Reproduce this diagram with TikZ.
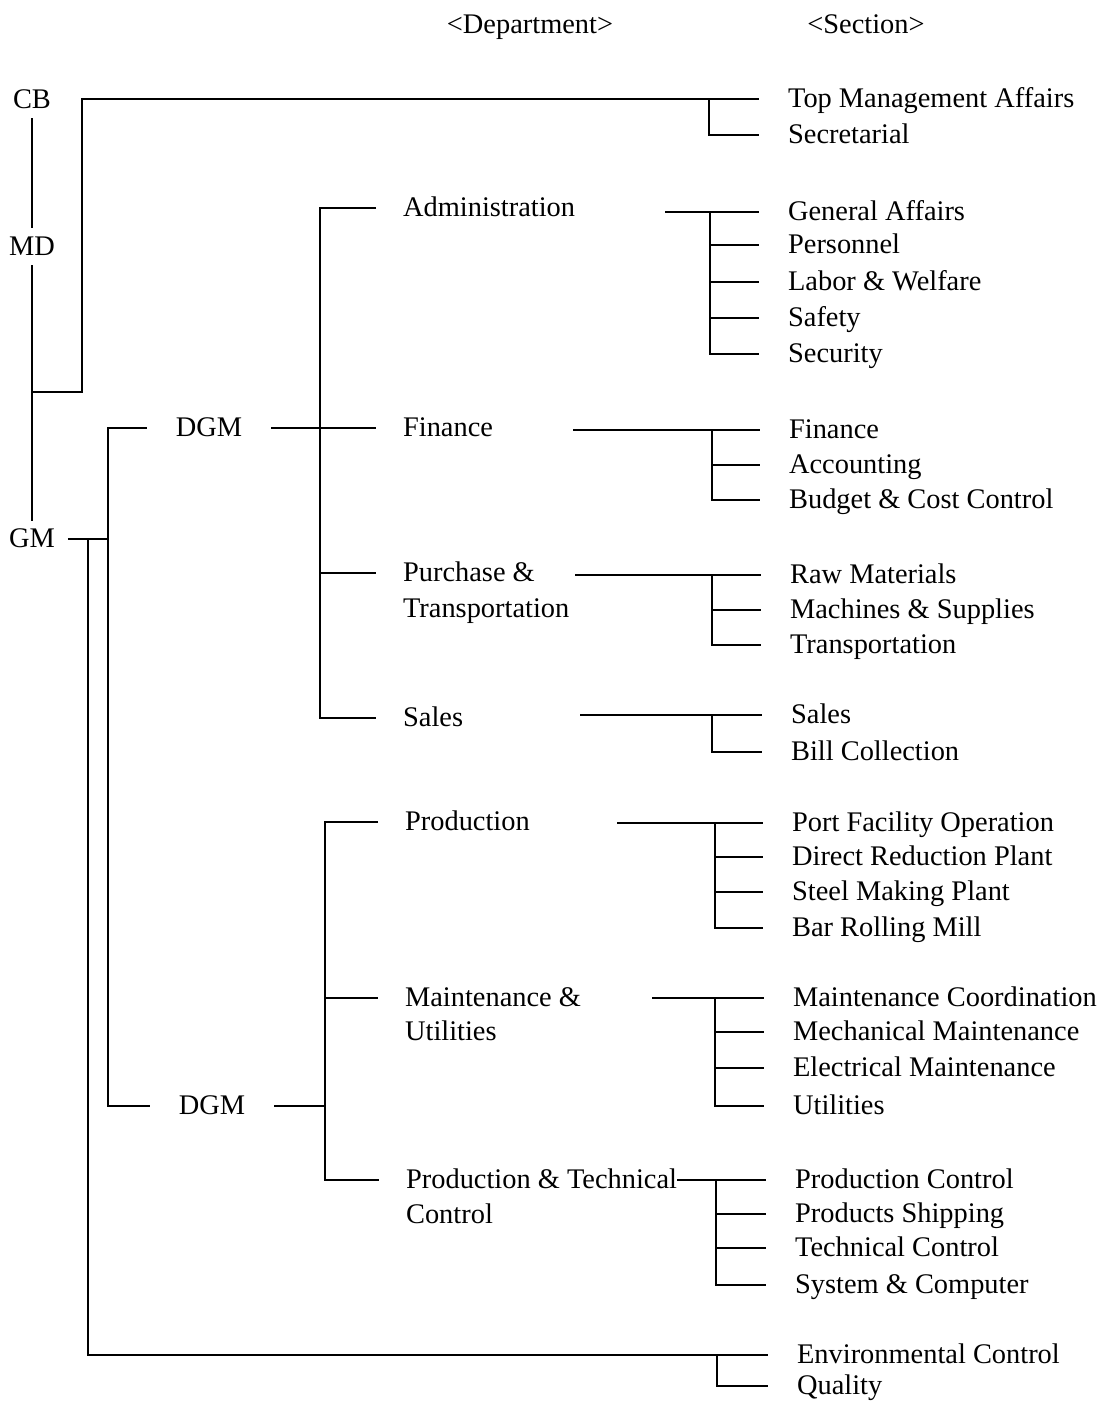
\documentclass[tikz,border=0pt]{standalone}
\usepackage{fontspec}
\setmainfont{Liberation Serif}
\begin{document}
\begin{tikzpicture}[x=0.5pt,y=-0.5pt,line width=1.1pt,
    every node/.style={font=\fontsize{14.2}{16}\selectfont,inner sep=0pt,text height=10pt,text depth=1.4pt},
    post/.style={inner xsep=6pt,inner ysep=3pt},
    dgm/.style={inner xsep=14pt},
    dept/.style={anchor=west,inner xsep=13pt},
    sect/.style={anchor=west,inner xsep=14pt}]
    \useasboundingbox (0,0) rectangle (1102,1401);

    \node (hDept) at (530,25) {\textless Department\textgreater};
    \node (hSect) at (866,25) {\textless Section\textgreater};

    \node[post] (cb) at (32,100) {CB};
    \node[post] (md) at (32,247) {MD};
    \node[post] (gm) at (32,539) {GM};
    \draw (cb) -- (md);
    \draw (md) -- (gm);

    \node[dgm] (dgmA) at (209,428) {DGM};
    \node[dgm] (dgmB) at (212,1106) {DGM};
    \coordinate (kDG) at (108,539);
    \coordinate (kEnv) at (88,539);
    \draw (gm) -- (kDG);
    \draw (dgmA.west) -| (kDG) |- (dgmB.west);

    \node[dept] (dAdm) at (376,208) {Administration};
    \node[dept] (dFin) at (376,428) {Finance};
    \node[dept] (dPur) at (376,573) {Purchase \&};
    \node[dept] (dPurB) at (376,609) {Transportation};
    \node[dept] (dSal) at (376,718) {Sales};
    \coordinate (kA) at (320,428);
    \draw (dgmA.east) -- (dFin.west);
    \draw (dAdm.west) -| (kA) |- (dSal.west);
    \draw (kA |- dPur.west) -- (dPur.west);

    \node[dept] (dPro) at (378,822) {Production};
    \node[dept] (dMai) at (378,998) {Maintenance \&};
    \node[dept] (dMaiB) at (378,1032) {Utilities};
    \node[dept] (dPtc) at (379,1180) {Production \& Technical};
    \node[dept] (dPtcB) at (379,1215) {Control};
    \coordinate (kB) at (325,1106);
    \draw (dgmB.east) -- (kB);
    \draw (dPro.west) -| (kB) |- (dPtc.west);
    \draw (kB |- dMai.west) -- (dMai.west);

    \node[sect] (sTop) at (759,99) {Top Management Affairs};
    \node[sect] (sSecr) at (759,135) {Secretarial};
    \coordinate (kCB) at (32,392);
    \coordinate (kTop) at (82,99);
    \coordinate (bTop) at (709,99);
    \draw (kCB) -| (kTop) -- (sTop.west);
    \draw (bTop) |- (sSecr.west);

    \node[sect] (sGen) at (759,212) {General Affairs};
    \node[sect] (sPer) at (759,245) {Personnel};
    \node[sect] (sLab) at (759,282) {Labor \& Welfare};
    \node[sect] (sSaf) at (759,318) {Safety};
    \node[sect] (sSecu) at (759,354) {Security};
    \coordinate (aAdm) at (665,212);
    \coordinate (bAdm) at (710,212);
    \draw (aAdm) -- (sGen.west);
    \draw (bAdm) |- (sSecu.west);
    \draw (bAdm |- sPer.west) -- (sPer.west);
    \draw (bAdm |- sLab.west) -- (sLab.west);
    \draw (bAdm |- sSaf.west) -- (sSaf.west);

    \node[sect] (sFin) at (760,430) {Finance};
    \node[sect] (sAcc) at (760,465) {Accounting};
    \node[sect] (sBud) at (760,500) {Budget \& Cost Control};
    \coordinate (aFin) at (573,430);
    \coordinate (bFin) at (712,430);
    \draw (aFin) -- (sFin.west);
    \draw (bFin) |- (sBud.west);
    \draw (bFin |- sAcc.west) -- (sAcc.west);

    \node[sect] (sRaw) at (761,575) {Raw Materials};
    \node[sect] (sMac) at (761,610) {Machines \& Supplies};
    \node[sect] (sTra) at (761,645) {Transportation};
    \coordinate (aPur) at (575,575);
    \coordinate (bPur) at (712,575);
    \draw (aPur) -- (sRaw.west);
    \draw (bPur) |- (sTra.west);
    \draw (bPur |- sMac.west) -- (sMac.west);

    \node[sect] (sSal) at (762,715) {Sales};
    \node[sect] (sBil) at (762,752) {Bill Collection};
    \coordinate (aSal) at (580,715);
    \coordinate (bSal) at (712,715);
    \draw (aSal) -- (sSal.west);
    \draw (bSal) |- (sBil.west);

    \node[sect] (sPor) at (763,823) {Port Facility Operation};
    \node[sect] (sDir) at (763,857) {Direct Reduction Plant};
    \node[sect] (sSte) at (763,892) {Steel Making Plant};
    \node[sect] (sBar) at (763,928) {Bar Rolling Mill};
    \coordinate (aPro) at (617,823);
    \coordinate (bPro) at (715,823);
    \draw (aPro) -- (sPor.west);
    \draw (bPro) |- (sBar.west);
    \draw (bPro |- sDir.west) -- (sDir.west);
    \draw (bPro |- sSte.west) -- (sSte.west);

    \node[sect] (sMco) at (764,998) {Maintenance Coordination};
    \node[sect] (sMec) at (764,1032) {Mechanical Maintenance};
    \node[sect] (sEle) at (764,1068) {Electrical Maintenance};
    \node[sect] (sUti) at (764,1106) {Utilities};
    \coordinate (aMai) at (652,998);
    \coordinate (bMai) at (715,998);
    \draw (aMai) -- (sMco.west);
    \draw (bMai) |- (sUti.west);
    \draw (bMai |- sMec.west) -- (sMec.west);
    \draw (bMai |- sEle.west) -- (sEle.west);

    \node[sect] (sPco) at (766,1180) {Production Control};
    \node[sect] (sPsh) at (766,1214) {Products Shipping};
    \node[sect] (sTec) at (766,1248) {Technical Control};
    \node[sect] (sSys) at (766,1285) {System \& Computer};
    \coordinate (aPtc) at (677,1180);
    \coordinate (bPtc) at (716,1180);
    \draw (aPtc) -- (sPco.west);
    \draw (bPtc) |- (sSys.west);
    \draw (bPtc |- sPsh.west) -- (sPsh.west);
    \draw (bPtc |- sTec.west) -- (sTec.west);

    \node[sect] (sEnv) at (768,1355) {Environmental Control};
    \node[sect] (sQua) at (768,1386) {Quality};
    \coordinate (bEnv) at (717,1355);
    \draw (kEnv) |- (sEnv.west);
    \draw (bEnv) |- (sQua.west);
\end{tikzpicture}
\end{document}
